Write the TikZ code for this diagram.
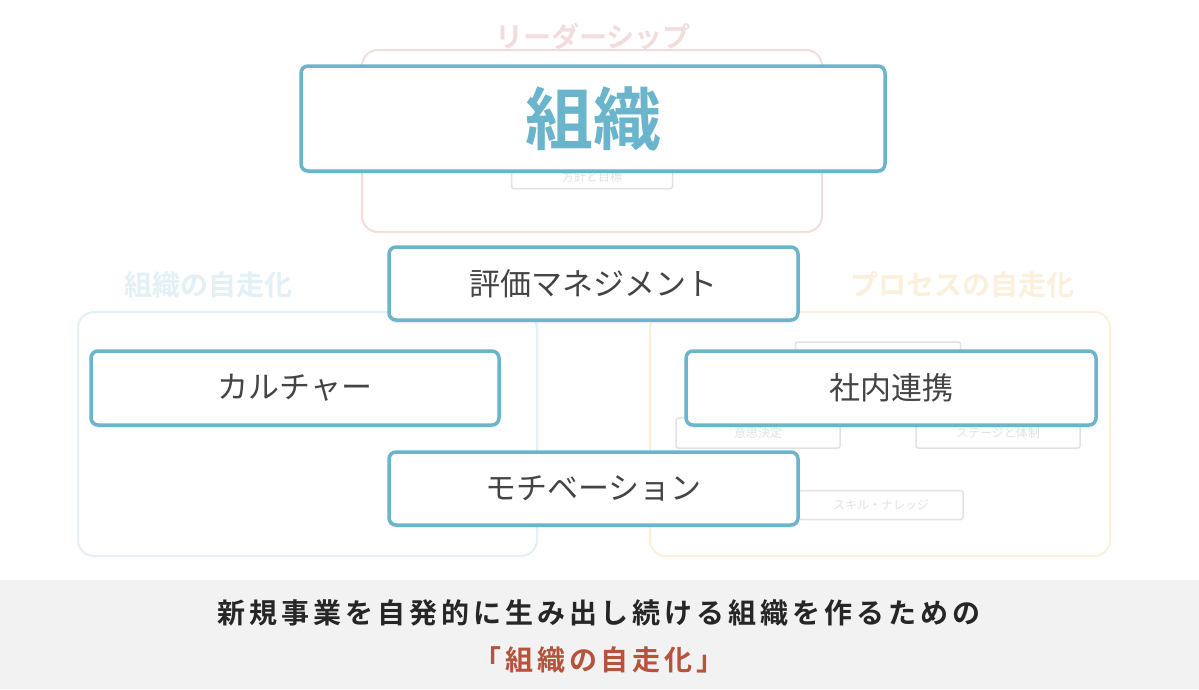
\documentclass[tikz,border=0pt]{standalone}
\usepackage{fontspec}
\setmainfont{Noto Sans CJK JP}
\newfontfamily\jpb{Noto Sans CJK JP Bold}
\newfontfamily\jpbs[LetterSpace=14]{Noto Sans CJK JP Bold}
\usetikzlibrary{shadows}
\definecolor{blu}{HTML}{6AB4CC}
\definecolor{txt}{HTML}{444444}
\definecolor{fpink}{HTML}{F3DCDC}
\definecolor{fblue}{HTML}{E3F0F6}
\definecolor{fyel}{HTML}{FBF0DC}
\definecolor{fgray}{HTML}{E2E2E2}
\definecolor{band}{HTML}{F2F2F2}
\definecolor{rust}{HTML}{B5533C}
\begin{document}
\begin{tikzpicture}[x=1pt,y=-1pt,
 mainbox/.style={draw=blu,line width=3.5pt,rounded corners=7pt,fill=white,text=txt,font=\fontsize{31}{31}\selectfont,inner sep=0pt,drop shadow={opacity=0.12,shadow xshift=0pt,shadow yshift=-3pt}},
 fbox/.style={draw=fgray,line width=1.5pt,rounded corners=2pt,fill=white,text=fgray,font=\fontsize{12}{12}\selectfont,inner sep=0pt},
 area/.style={line width=2pt,rounded corners=16pt,fill=white}]
\fill[white] (0,0) rectangle (1199,689);
\useasboundingbox (0,0) rectangle (1199,689);
% faint background groups
\node[text=fpink,font=\jpb\fontsize{28}{28}\selectfont] (tl) at (593,37) {リーダーシップ};
\draw[area,draw=fpink] (362,50) rectangle (822,232);
\node[fbox,minimum width=161pt,minimum height=23pt] (f1) at (592,177) {方針と目標};
\node[text=fblue,font=\jpb\fontsize{28}{28}\selectfont] (tb) at (208,285) {組織の自走化};
\draw[area,draw=fblue] (78,312) rectangle (537,556);
\node[text=fyel,font=\jpb\fontsize{28}{28}\selectfont] (ty) at (962,285) {プロセスの自走化};
\draw[area,draw=fyel] (650,312) rectangle (1110,556);
\node[fbox,minimum width=165pt,minimum height=30pt] (f2) at (878,357) {};
\node[fbox,minimum width=164pt,minimum height=30pt] (f3) at (758,433) {意思決定};
\node[fbox,minimum width=164pt,minimum height=30pt] (f4) at (998,433) {ステージと体制};
\node[fbox,minimum width=164pt,minimum height=29pt] (f5) at (881,505) {スキル・ナレッジ};
% main boxes
\node[mainbox,minimum width=584pt,minimum height=105pt,text=blu,font=\jpb\fontsize{68}{68}\selectfont] (org) at (593,118.5) {組織};
\node[mainbox,minimum width=409pt,minimum height=73pt] (hyo) at (593.5,283.5) {評価マネジメント};
\node[mainbox,minimum width=408pt,minimum height=74pt] (cul) at (295,388) {カルチャー};
\node[mainbox,minimum width=410pt,minimum height=74pt] (sha) at (891,388) {社内連携};
\node[mainbox,minimum width=409pt,minimum height=73pt] (mot) at (593.5,488.5) {モチベーション};
% bottom band
\fill[band] (0,580) rectangle (1199,689);
\node[font=\jpbs\fontsize{28}{28}\selectfont,text=black!85] (l1) at (599,613) {新規事業を自発的に生み出し続ける組織を作るための};
\node[font=\jpbs\fontsize{28}{28}\selectfont,text=rust] (l2) at (599,660) {「組織の自走化」};
\end{tikzpicture}
\end{document}
